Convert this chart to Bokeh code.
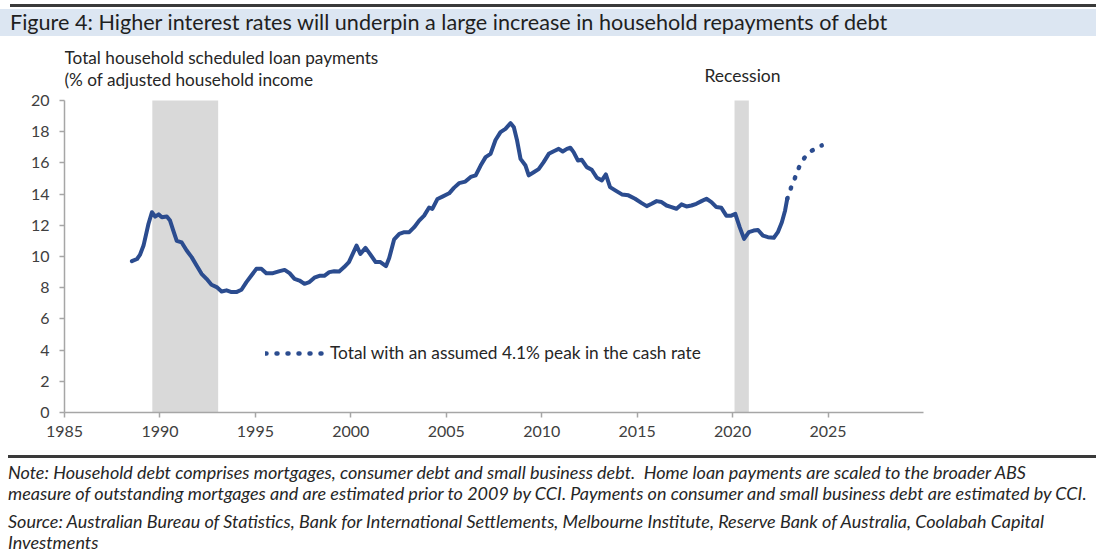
from bokeh.plotting import figure
from bokeh.models import Label, Legend, LegendItem, FixedTicker, Range1d, Div
from bokeh.layouts import column
from bokeh.embed import file_html
from bokeh.resources import INLINE

# ---------------- data ----------------
hist_years = [1988.53, 1988.8, 1988.95, 1989.14, 1989.4, 1989.58, 1989.75, 1989.93, 1990.1, 1990.36,
              1990.53, 1990.7, 1990.88, 1991.14, 1991.4, 1991.66, 1991.92, 1992.18, 1992.44, 1992.7,
              1992.97, 1993.23, 1993.49, 1993.75, 1994.0, 1994.27, 1994.53, 1994.79, 1995.05, 1995.31,
              1995.57, 1995.92, 1996.27, 1996.53, 1996.79, 1997.05, 1997.31, 1997.57, 1997.83, 1998.09,
              1998.35, 1998.61, 1998.87, 1999.13, 1999.39, 1999.65, 1999.9, 2000.1, 2000.3, 2000.5,
              2000.77, 2001.0, 2001.3, 2001.55, 2001.84, 2002.01, 2002.27, 2002.54, 2002.8, 2003.06,
              2003.32, 2003.58, 2003.84, 2004.1, 2004.27, 2004.54, 2004.8, 2005.15, 2005.4, 2005.67,
              2006.0, 2006.28, 2006.54, 2006.8, 2007.06, 2007.32, 2007.58, 2007.84, 2008.1, 2008.37,
              2008.54, 2008.71, 2008.89, 2009.15, 2009.32, 2009.58, 2009.84, 2010.1, 2010.37, 2010.63,
              2010.89, 2011.1, 2011.32, 2011.5, 2011.67, 2011.9, 2012.1, 2012.36, 2012.62, 2012.89,
              2013.15, 2013.36, 2013.58, 2013.85, 2014.2, 2014.54, 2014.89, 2015.24, 2015.5, 2015.76,
              2016.02, 2016.28, 2016.54, 2016.8, 2017.06, 2017.32, 2017.58, 2017.84, 2018.1, 2018.37,
              2018.63, 2018.89, 2019.15, 2019.41, 2019.67, 2019.93, 2020.14, 2020.37, 2020.6, 2020.85,
              2021.1, 2021.33, 2021.59, 2021.85, 2022.16, 2022.37, 2022.58, 2022.75, 2022.86]
hist_values = [9.70, 9.84, 10.1, 10.7, 12.1, 12.84, 12.56, 12.7, 12.52, 12.56,
               12.3, 11.66, 11.0, 10.9, 10.38, 9.96, 9.42, 8.89, 8.57, 8.19,
               8.04, 7.76, 7.83, 7.72, 7.72, 7.87, 8.36, 8.78, 9.21, 9.21,
               8.93, 8.93, 9.06, 9.14, 8.93, 8.57, 8.46, 8.25, 8.36, 8.64,
               8.76, 8.76, 9.0, 9.06, 9.04, 9.32, 9.64, 10.17, 10.7, 10.17,
               10.55, 10.17, 9.64, 9.64, 9.38, 9.9, 11.1, 11.45, 11.56, 11.56,
               11.88, 12.3, 12.62, 13.14, 13.05, 13.69, 13.84, 14.05, 14.4, 14.7,
               14.8, 15.1, 15.2, 15.83, 16.37, 16.58, 17.47, 17.97, 18.18, 18.55,
               18.28, 17.43, 16.26, 15.83, 15.2, 15.4, 15.6, 16.05, 16.58, 16.75,
               16.9, 16.73, 16.9, 16.97, 16.69, 16.15, 16.2, 15.73, 15.56, 15.05,
               14.88, 15.26, 14.45, 14.24, 13.98, 13.92, 13.7, 13.42, 13.23, 13.38,
               13.55, 13.49, 13.27, 13.17, 13.06, 13.34, 13.21, 13.27, 13.38, 13.55,
               13.7, 13.49, 13.17, 13.12, 12.62, 12.62, 12.73, 11.88, 11.13, 11.56,
               11.66, 11.7, 11.34, 11.24, 11.2, 11.56, 12.2, 12.95, 13.69]

proj_years = [2022.86, 2023.07, 2023.28, 2023.48, 2023.76, 2024.16, 2024.67]
proj_values = [13.69, 14.44, 15.08, 15.72, 16.32, 16.79, 17.12]

rec_start = [1989.6, 2020.1]
rec_end = [1993.05, 2020.85]

x_ticks = [1985, 1990, 1995, 2000, 2005, 2010, 2015, 2020, 2025]
y_ticks = [0, 2, 4, 6, 8, 10, 12, 14, 16, 18, 20]

title_text = "Figure 4: Higher interest rates will underpin a large increase in household repayments of debt"
ylabel_lines = ["Total household scheduled loan payments", "(% of adjusted household income"]
legend_label = "Total with an assumed 4.1% peak in the cash rate"
note_lines = [
    "Note: Household debt comprises mortgages, consumer debt and small business debt.  Home loan payments are scaled to the broader ABS",
    "measure of outstanding mortgages and are estimated prior to 2009 by CCI. Payments on consumer and small business debt are estimated by CCI.",
    "Source: Australian Bureau of Statistics, Bank for International Settlements, Melbourne Institute, Reserve Bank of Australia, Coolabah Capital",
    "Investments",
]

# ---------------- layout (page pixels) ----------------
W = 1096
TOP_H = 40          # title div
FIG_H = 410         # figure
BOT_H = 555 - TOP_H - FIG_H
L, R = 64, 923      # frame left/right (page px)
AX_TOP, AX_BOT = 100, 412   # y=20 and y=0 (page px)
FR_TOP = 45         # frame top (page px), frame extended above y=20 for text
X0, X1, Y0, Y1 = 1985, 2030, 0, 20
PPU = (AX_BOT - AX_TOP) / (Y1 - Y0)
Y_TOP = Y1 + (AX_TOP - FR_TOP) / PPU

def dx(px):
    return X0 + (px - L) * (X1 - X0) / (R - L)

def dy(py):
    return Y0 + (AX_BOT - py) / PPU

FONT = "Lato"
BLUE = "#2b4c8f"
TXT = "#262626"

p = figure(width=W, height=FIG_H, x_range=Range1d(X0, X1), y_range=Range1d(Y0, Y_TOP),
           output_backend="svg", toolbar_location=None,
           min_border_left=L, min_border_right=W - R,
           min_border_top=FR_TOP - TOP_H, min_border_bottom=TOP_H + FIG_H - AX_BOT)
p.outline_line_color = None
p.xgrid.visible = False
p.ygrid.visible = False
p.background_fill_color = "white"
p.border_fill_color = "white"

for ax in (p.xaxis[0], p.yaxis[0]):
    ax.axis_line_color = "#a6a6a6"
    ax.axis_line_width = 1.5
    ax.major_tick_line_color = "#a6a6a6"
    ax.major_tick_line_width = 1.5
    ax.major_tick_in = 0
    ax.major_tick_out = 5
    ax.minor_tick_line_color = None
    ax.major_label_text_font = FONT
    ax.major_label_text_font_size = "16px"
    ax.major_label_text_color = "#404040"

p.xaxis.ticker = FixedTicker(ticks=x_ticks)
p.yaxis.ticker = FixedTicker(ticks=y_ticks)
p.yaxis.bounds = (Y0, Y1)
p.yaxis.major_label_standoff = 10
p.xaxis.major_label_standoff = 8

# recession bands
p.quad(left=rec_start, right=rec_end, bottom=Y0, top=Y1, fill_color="#d9d9d9", line_color=None)

# series
p.line(hist_years, hist_values, line_width=4, color=BLUE, line_join="round", line_cap="round")
proj = p.line(proj_years, proj_values, line_width=4.5, color=BLUE, line_dash="1 10", line_cap="round")

legend = Legend(items=[LegendItem(label=legend_label, renderers=[proj])],
                location=(201, 49), glyph_width=60, glyph_height=20, label_height=20,
                label_standoff=5, padding=0, margin=0, spacing=0,
                border_line_color=None, background_fill_alpha=0,
                label_text_font=FONT, label_text_font_size="17.3px", label_text_color=TXT)
p.add_layout(legend)

for i, t in enumerate(ylabel_lines):
    p.add_layout(Label(x=dx(L), y=dy(57 + 22 * i), text=t, text_font=FONT, text_font_size="17.2px",
                       text_color=TXT, text_baseline="middle", text_align="left"))

p.add_layout(Label(x=dx(742), y=dy(75), text="Recession", text_font=FONT, text_font_size="17.5px",
                   text_color=TXT, text_baseline="middle", text_align="center"))

# ---------------- title and notes ----------------
title_html = (
    f'<div style="position:relative;width:{W}px;height:{TOP_H}px;">'
    f'<div style="position:absolute;left:10px;top:4px;width:{W - 10}px;height:3px;background:#3a3a3a;"></div>'
    f'<div style="position:absolute;left:0;top:9px;width:{W}px;height:27px;background:#dce6f2;"></div>'
    f'<div style="position:absolute;left:10px;top:9px;height:27px;line-height:27px;white-space:nowrap;'
    f'font-family:Lato;font-size:21.6px;color:#1f1f1f;">{title_text}</div>'
    '</div>'
)
title_div = Div(text=title_html, width=W, height=TOP_H, margin=0)

note_tops = [11, 32, 60, 81]
note_html = (
    f'<div style="position:relative;width:{W}px;height:{BOT_H}px;">'
    f'<div style="position:absolute;left:8px;top:5px;width:{W - 8}px;height:2.5px;background:#3a3a3a;"></div>'
)
for top, t in zip(note_tops, note_lines):
    note_html += (f'<div style="position:absolute;left:8px;top:{top}px;height:22px;line-height:22px;'
                  f'white-space:pre;font-family:Lato;font-style:italic;font-size:18px;color:{TXT};">{t}</div>')
note_html += '</div>'
note_div = Div(text=note_html, width=W, height=BOT_H, margin=0)

layout = column(title_div, p, note_div, spacing=0)
open("out.html", "w").write(file_html(layout, INLINE))
